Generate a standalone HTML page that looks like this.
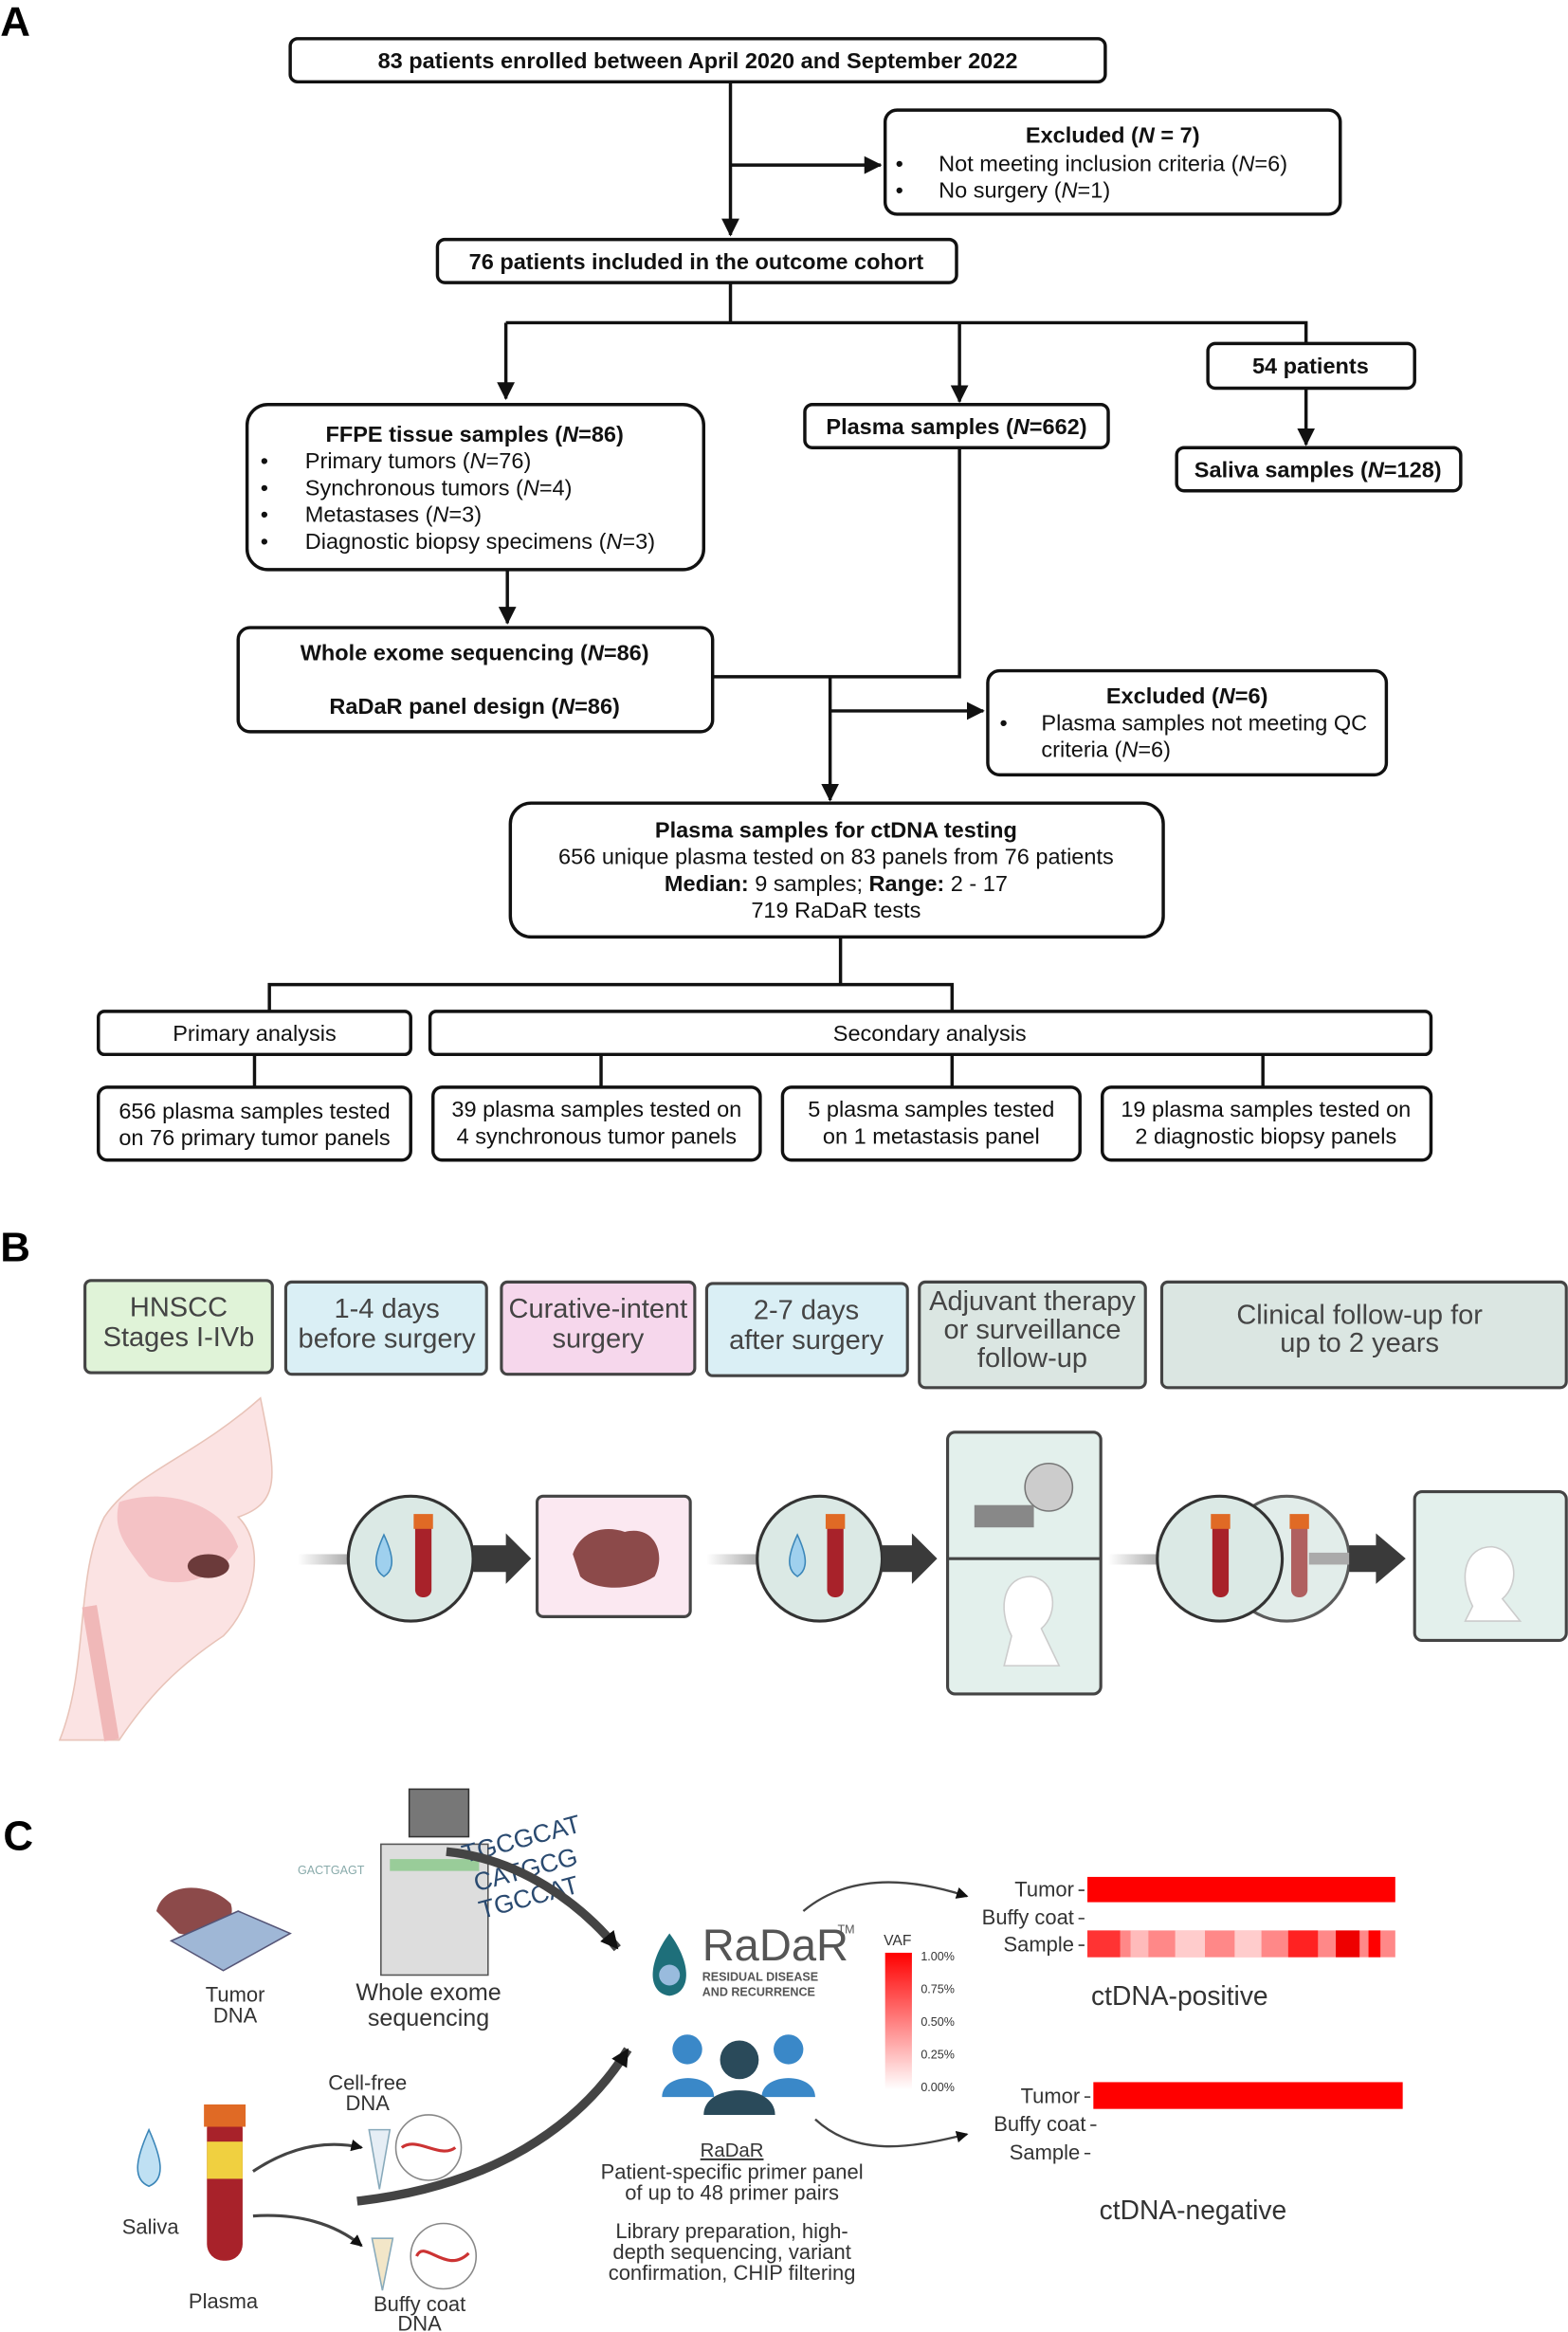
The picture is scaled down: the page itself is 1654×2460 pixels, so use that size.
<!DOCTYPE html>
<html><head><meta charset="utf-8"><style>
html,body{margin:0;padding:0;background:#fff;}
svg{display:block;font-family:"Liberation Sans",Arial,sans-serif;}
.b{fill:#fff;stroke:#111;stroke-width:2.2;}
.t{font-size:15px;fill:#111;}
.tb{font-size:15px;fill:#111;font-weight:bold;}
.l{stroke:#111;stroke-width:2.2;fill:none;}
.bt{font-size:18.5px;fill:#444;}
.c{font-size:14px;fill:#333;}
</style></head><body>
<svg width="1654" height="2460" viewBox="0 0 1054 1568" xmlns="http://www.w3.org/2000/svg">
<defs><marker id="a" markerWidth="8" markerHeight="8" refX="7" refY="4" orient="auto" markerUnits="userSpaceOnUse" viewBox="0 0 8 8"><path d="M0,0 L8,4 L0,8z" fill="#111"/></marker>
<marker id="a2" markerWidth="12" markerHeight="12" refX="11" refY="6" orient="auto" markerUnits="userSpaceOnUse" viewBox="0 0 12 12"><path d="M0,0 L12,6 L0,12z" fill="#111"/></marker>
<linearGradient id="g" x1="0" x2="1"><stop offset="0" stop-color="#fff"/><stop offset="1" stop-color="#aaa"/></linearGradient></defs>
<text x="0" y="24" font-size="28" font-weight="bold">A</text>
<rect class="b" x="195" y="26" width="548" height="29" rx="5"/><text class="tb" x="469" y="46" text-anchor="middle">83 patients enrolled between April 2020 and September 2022</text>
<path class="l" d="M491,55 V158" marker-end="url(#a2)"/>
<path class="l" d="M491,111 H592" marker-end="url(#a2)"/>
<rect class="b" x="595" y="74" width="306" height="70" rx="8"/>
<text class="tb" x="748" y="96" text-anchor="middle">Excluded (<tspan font-style="italic">N</tspan> = 7)</text>
<text class="t" x="602" y="115">•</text><text class="t" x="631" y="115">Not meeting inclusion criteria (<tspan font-style="italic">N</tspan>=6)</text>
<text class="t" x="602" y="133">•</text><text class="t" x="631" y="133">No surgery (<tspan font-style="italic">N</tspan>=1)</text>
<rect class="b" x="294" y="161" width="349" height="29" rx="5"/><text class="tb" x="468" y="181" text-anchor="middle">76 patients included in the outcome cohort</text>
<path class="l" d="M491,190 V217 M340,217 H878 V231"/>
<path class="l" d="M340,217 V268" marker-end="url(#a2)"/>
<path class="l" d="M645,217 V270" marker-end="url(#a2)"/>
<rect class="b" x="812" y="231" width="139" height="30" rx="5"/><text class="tb" x="881" y="251" text-anchor="middle">54 patients</text>
<path class="l" d="M878,261 V299" marker-end="url(#a2)"/>
<rect class="b" x="791" y="301" width="191" height="29" rx="5"/><text class="tb" x="886" y="321" text-anchor="middle">Saliva samples (<tspan font-style="italic">N</tspan>=128)</text>
<rect class="b" x="541" y="272" width="204" height="29" rx="5"/><text class="tb" x="643" y="292" text-anchor="middle">Plasma samples (<tspan font-style="italic">N</tspan>=662)</text>
<rect class="b" x="166" y="272" width="307" height="111" rx="14"/>
<text class="tb" x="319" y="297" text-anchor="middle">FFPE tissue samples (<tspan font-style="italic">N</tspan>=86)</text>
<g class="t"><text x="175" y="315">•</text><text x="205" y="315">Primary tumors (<tspan font-style="italic">N</tspan>=76)</text>
<text x="175" y="333">•</text><text x="205" y="333">Synchronous tumors (<tspan font-style="italic">N</tspan>=4)</text>
<text x="175" y="351">•</text><text x="205" y="351">Metastases (<tspan font-style="italic">N</tspan>=3)</text>
<text x="175" y="369">•</text><text x="205" y="369">Diagnostic biopsy specimens (<tspan font-style="italic">N</tspan>=3)</text></g>
<path class="l" d="M341,383 V419" marker-end="url(#a2)"/>
<rect class="b" x="160" y="422" width="319" height="70" rx="8"/>
<text class="tb" x="319" y="444" text-anchor="middle">Whole exome sequencing (<tspan font-style="italic">N</tspan>=86)</text>
<text class="tb" x="319" y="480" text-anchor="middle">RaDaR panel design (<tspan font-style="italic">N</tspan>=86)</text>
<path class="l" d="M645,301 V455 H479 M558,455 V536"/>
<path class="l" d="M558,537 V538" marker-end="url(#a2)"/>
<path class="l" d="M558,478 H661" marker-end="url(#a2)"/>
<rect class="b" x="664" y="451" width="268" height="70" rx="8"/>
<text class="tb" x="798" y="473" text-anchor="middle">Excluded (<tspan font-style="italic">N</tspan>=6)</text>
<text class="t" x="672" y="491">•</text><text class="t" x="700" y="491">Plasma samples not meeting QC</text><text class="t" x="700" y="509">criteria (<tspan font-style="italic">N</tspan>=6)</text>
<rect class="b" x="343" y="540" width="439" height="90" rx="14"/>
<text class="tb" x="562" y="563" text-anchor="middle">Plasma samples for ctDNA testing</text>
<text class="t" x="562" y="581" text-anchor="middle">656 unique plasma tested on 83 panels from 76 patients</text>
<text class="t" x="562" y="599" text-anchor="middle"><tspan font-weight="bold">Median:</tspan> 9 samples; <tspan font-weight="bold">Range:</tspan> 2 - 17</text>
<text class="t" x="562" y="617" text-anchor="middle">719 RaDaR tests</text>
<path class="l" d="M565,630 V662 M181,680 V662 H640 V680"/>
<rect class="b" x="66" y="680" width="210" height="29" rx="4"/><text class="t" x="171" y="700" text-anchor="middle">Primary analysis</text>
<rect class="b" x="289" y="680" width="673" height="29" rx="4"/><text class="t" x="625" y="700" text-anchor="middle">Secondary analysis</text>
<path class="l" d="M171,709 V731 M404,709 V731 M640,709 V731 M849,709 V731"/>
<rect class="b" x="66" y="731" width="210" height="49" rx="6"/><text class="t" x="171" y="752" text-anchor="middle">656 plasma samples tested</text><text class="t" x="171" y="770" text-anchor="middle">on 76 primary tumor panels</text>
<rect class="b" x="291" y="731" width="220" height="49" rx="6"/><text class="t" x="401" y="751" text-anchor="middle">39 plasma samples tested on</text><text class="t" x="401" y="769" text-anchor="middle">4 synchronous tumor panels</text>
<rect class="b" x="526" y="731" width="200" height="49" rx="6"/><text class="t" x="626" y="751" text-anchor="middle">5 plasma samples tested</text><text class="t" x="626" y="769" text-anchor="middle">on 1 metastasis panel</text>
<rect class="b" x="741" y="731" width="221" height="49" rx="6"/><text class="t" x="851" y="751" text-anchor="middle">19 plasma samples tested on</text><text class="t" x="851" y="769" text-anchor="middle">2 diagnostic biopsy panels</text>
<text x="0" y="848" font-size="28" font-weight="bold">B</text>
<g stroke="#444" stroke-width="2">
<rect x="57" y="861" width="126" height="62" rx="4" fill="#e0f3d8"/>
<rect x="192" y="862" width="135" height="62" rx="4" fill="#daeff5"/>
<rect x="337" y="862" width="130" height="62" rx="4" fill="#f6d7ec"/>
<rect x="475" y="863" width="135" height="62" rx="4" fill="#daeff5"/>
<rect x="618" y="862" width="152" height="71" rx="4" fill="#dbe6e2"/>
<rect x="781" y="862" width="272" height="71" rx="4" fill="#dbe6e2"/>
</g>
<g class="bt" text-anchor="middle">
<text x="120" y="885">HNSCC</text><text x="120" y="905">Stages I-IVb</text>
<text x="260" y="886">1-4 days</text><text x="260" y="906">before surgery</text>
<text x="402" y="886">Curative-intent</text><text x="402" y="906">surgery</text>
<text x="542" y="887">2-7 days</text><text x="542" y="907">after surgery</text>
<text x="694" y="881">Adjuvant therapy</text><text x="694" y="900">or surveillance</text><text x="694" y="919">follow-up</text>
<text x="914" y="890">Clinical follow-up for</text><text x="914" y="909">up to 2 years</text>
</g>
<path d="M175,940 C185,990 190,1010 160,1020 C180,1040 170,1080 150,1100 C120,1120 100,1140 80,1170 L40,1170 C60,1120 50,1060 70,1020 C90,990 130,980 175,940z" fill="#fbe3e3" stroke="#e8c3b8"/>
<path d="M80,1010 C110,1000 150,1010 160,1040 C150,1060 120,1070 100,1060 C85,1040 75,1030 80,1010z" fill="#f4c2c5"/>
<ellipse cx="140" cy="1053" rx="14" ry="8" fill="#6b3a3a"/>
<path d="M60,1080 L75,1170" stroke="#f0b8b8" stroke-width="10"/>
<rect x="200" y="1045" width="35" height="7" fill="url(#g)"/>
<circle cx="276" cy="1048" r="42" fill="#dbe9e5" stroke="#333" stroke-width="2"/>
<path d="M258,1032 C252,1045 250,1055 258,1060 C266,1055 264,1045 258,1032z" fill="#9fd0ee" stroke="#3b86b8"/>
<rect x="279" y="1022" width="11" height="52" rx="5" fill="#a8222a"/><rect x="278" y="1018" width="13" height="10" fill="#e06a25"/>
<path d="M318,1039 H340 V1031 L357,1048 L340,1065 V1057 H318z" fill="#3a3a3a"/>
<rect x="361" y="1006" width="103" height="81" rx="4" fill="#fbe8f1" stroke="#444" stroke-width="2"/>
<path d="M385,1045 C390,1030 405,1025 420,1030 C440,1025 448,1045 440,1060 C425,1070 400,1070 390,1060z" fill="#8c4a4a"/>
<rect x="475" y="1045" width="35" height="7" fill="url(#g)"/>
<circle cx="551" cy="1048" r="42" fill="#dbe9e5" stroke="#333" stroke-width="2"/>
<path d="M536,1032 C530,1045 528,1055 536,1060 C544,1055 542,1045 536,1032z" fill="#9fd0ee" stroke="#3b86b8"/>
<rect x="556" y="1022" width="11" height="52" rx="5" fill="#a8222a"/><rect x="555" y="1018" width="13" height="10" fill="#e06a25"/>
<path d="M593,1039 H613 V1031 L630,1048 L613,1065 V1057 H593z" fill="#3a3a3a"/>
<rect x="637" y="963" width="103" height="176" rx="5" fill="#e3f0ec" stroke="#444" stroke-width="2"/>
<path d="M637,1048 H740" stroke="#444" stroke-width="2"/>
<rect x="655" y="1012" width="40" height="15" fill="#888"/><circle cx="705" cy="1000" r="16" fill="#ccc" stroke="#777"/>
<path d="M680,1100 C670,1080 675,1060 693,1060 C710,1062 712,1085 700,1095 L712,1120 L675,1120z" fill="#fff" stroke="#ccc"/>
<rect x="745" y="1045" width="35" height="7" fill="url(#g)"/>
<circle cx="865" cy="1048" r="42" fill="#dbe9e5" stroke="#333" stroke-width="2" opacity="0.8"/>
<circle cx="820" cy="1048" r="42" fill="#dbe9e5" stroke="#333" stroke-width="2"/>
<rect x="815" y="1022" width="11" height="52" rx="5" fill="#a8222a"/><rect x="814" y="1018" width="13" height="10" fill="#e06a25"/>
<rect x="868" y="1022" width="11" height="52" rx="5" fill="#b06060"/><rect x="867" y="1018" width="13" height="10" fill="#e06a25"/>
<rect x="880" y="1044" width="40" height="8" fill="#aaa"/>
<path d="M907,1039 H925 V1031 L945,1048 L925,1065 V1057 H907z" fill="#3a3a3a"/>
<rect x="951" y="1003" width="102" height="100" rx="5" fill="#e3f0ec" stroke="#444" stroke-width="2"/>
<path d="M990,1080 C980,1060 985,1040 1003,1040 C1020,1042 1022,1065 1010,1075 L1022,1090 L985,1090z" fill="#fff" stroke="#ccc"/>
<text x="2" y="1244" font-size="28" font-weight="bold">C</text>
<path d="M105,1285 C110,1265 140,1265 155,1280 C160,1295 140,1305 120,1300z" fill="#8c4a4a"/>
<path d="M115,1305 L160,1285 L195,1300 L150,1325z" fill="#9fb7d6" stroke="#557"/>
<text class="c" x="158" y="1346" text-anchor="middle">Tumor</text><text class="c" x="158" y="1360" text-anchor="middle">DNA</text>
<rect x="256" y="1240" width="72" height="88" fill="#ddd" stroke="#555"/><rect x="262" y="1250" width="60" height="8" fill="#9c9"/>
<rect x="275" y="1203" width="40" height="32" fill="#777" stroke="#333"/>
<text x="200" y="1260" font-size="8" fill="#8aa">GACTGAGT</text>
<text x="310" y="1245" font-size="17" fill="#2a4a70" transform="rotate(-15 340 1240)">TGCGCAT</text>
<text x="318" y="1265" font-size="17" fill="#2a4a70" transform="rotate(-15 345 1260)">CATGCG</text>
<text x="322" y="1283" font-size="17" fill="#2a4a70" transform="rotate(-15 350 1280)">TGCCAT</text>
<text x="288" y="1345" text-anchor="middle" font-size="16" fill="#333">Whole exome</text><text x="288" y="1362" text-anchor="middle" font-size="16" fill="#333">sequencing</text>
<path d="M300,1245 C350,1250 390,1280 415,1310" stroke="#444" stroke-width="6" fill="none" marker-end="url(#a2)"/>
<path d="M240,1480 C330,1470 390,1430 422,1378" stroke="#444" stroke-width="6" fill="none" marker-end="url(#a2)"/>
<path d="M450,1300 C435,1320 435,1340 450,1342 C465,1340 465,1320 450,1300z" fill="#1e6f7a"/><circle cx="450" cy="1328" r="7" fill="#9bd"/>
<text x="472" y="1318" font-size="30" fill="#555">RaDaR</text><text x="563" y="1300" font-size="8" fill="#555">TM</text>
<text x="472" y="1332" font-size="8" fill="#555" font-weight="bold">RESIDUAL DISEASE</text><text x="472" y="1342" font-size="8" fill="#555" font-weight="bold">AND RECURRENCE</text>
<circle cx="462" cy="1378" r="10" fill="#3a88c8"/><circle cx="530" cy="1378" r="10" fill="#3a88c8"/><circle cx="497" cy="1385" r="13" fill="#2a4a5a"/>
<path d="M445,1410 C445,1393 480,1393 480,1410z M512,1410 C512,1393 548,1393 548,1410z" fill="#3a88c8"/>
<path d="M473,1422 C473,1400 521,1400 521,1422z" fill="#2a4a5a"/>
<text x="492" y="1450" text-anchor="middle" font-size="13" fill="#333" text-decoration="underline">RaDaR</text>
<text class="c" x="492" y="1465" text-anchor="middle" font-size="13">Patient-specific primer panel</text>
<text class="c" x="492" y="1479" text-anchor="middle" font-size="13">of up to 48 primer pairs</text>
<text class="c" x="492" y="1505" text-anchor="middle" font-size="13">Library preparation, high-</text>
<text class="c" x="492" y="1519" text-anchor="middle" font-size="13">depth sequencing, variant</text>
<text class="c" x="492" y="1533" text-anchor="middle" font-size="13">confirmation, CHIP filtering</text>
<path d="M100,1432 C92,1450 88,1465 100,1470 C112,1465 108,1450 100,1432z" fill="#bfe0f3" stroke="#3b86b8"/>
<text class="c" x="101" y="1502" text-anchor="middle">Saliva</text>
<rect x="139" y="1420" width="24" height="100" rx="11" fill="#a8222a"/><rect x="139" y="1440" width="24" height="25" fill="#f0d040"/><rect x="137" y="1415" width="28" height="15" fill="#e06a25"/>
<text class="c" x="150" y="1552" text-anchor="middle">Plasma</text>
<text class="c" x="247" y="1405" text-anchor="middle" font-size="13">Cell-free</text><text class="c" x="247" y="1419" text-anchor="middle" font-size="13">DNA</text>
<circle cx="288" cy="1444" r="22" fill="#fff" stroke="#888"/><path d="M270,1444 C280,1436 296,1452 306,1444" stroke="#c33" stroke-width="2" fill="none"/>
<path d="M248,1432 L262,1432 L255,1472z" fill="#e6eef5" stroke="#8ab"/>
<path d="M170,1460 C200,1440 225,1440 243,1444" stroke="#444" stroke-width="2" fill="none" marker-end="url(#a)"/>
<path d="M170,1490 C200,1488 225,1495 243,1510" stroke="#444" stroke-width="2" fill="none" marker-end="url(#a)"/>
<circle cx="298" cy="1517" r="22" fill="#fff" stroke="#888"/><path d="M280,1517 C285,1505 300,1530 315,1515" stroke="#c33" stroke-width="2" fill="none"/>
<path d="M250,1505 L264,1505 L257,1540z" fill="#f2e6c8" stroke="#8ab"/>
<text class="c" x="282" y="1554" text-anchor="middle" font-size="13">Buffy coat</text><text class="c" x="282" y="1567" text-anchor="middle" font-size="13">DNA</text>
<path d="M540,1285 C570,1260 610,1262 650,1275" stroke="#444" stroke-width="1.5" fill="none" marker-end="url(#a)"/>
<path d="M548,1425 C575,1450 610,1445 650,1435" stroke="#444" stroke-width="1.5" fill="none" marker-end="url(#a)"/>
<text x="594" y="1308" font-size="10" fill="#333">VAF</text>
<defs><linearGradient id="v" x1="0" y1="0" x2="0" y2="1"><stop offset="0" stop-color="#f00"/><stop offset="1" stop-color="#fff"/></linearGradient></defs>
<rect x="595" y="1313" width="18" height="92" fill="url(#v)"/>
<g font-size="8" fill="#333"><text x="619" y="1318">1.00%</text><text x="619" y="1340">0.75%</text><text x="619" y="1362">0.50%</text><text x="619" y="1384">0.25%</text><text x="619" y="1406">0.00%</text></g>
<g class="c" text-anchor="end" font-size="13.5"><text x="722" y="1275">Tumor</text><text x="722" y="1294">Buffy coat</text><text x="722" y="1312">Sample</text>
<text x="726" y="1414">Tumor</text><text x="730" y="1433">Buffy coat</text><text x="726" y="1452">Sample</text></g>
<path d="M725,1271 H729 M725,1290 H729 M725,1308 H729 M729,1410 H733 M733,1429 H737 M729,1448 H733" stroke="#333"/>
<rect x="731" y="1262" width="207" height="17" fill="#f00"/>
<g>
<rect x="731" y="1298" width="207" height="18" fill="#f88"/>
<rect x="731" y="1298" width="22" height="18" fill="#f33"/><rect x="760" y="1298" width="12" height="18" fill="#fbb"/><rect x="790" y="1298" width="20" height="18" fill="#fcc"/><rect x="830" y="1298" width="18" height="18" fill="#fcc"/><rect x="866" y="1298" width="20" height="18" fill="#f22"/><rect x="898" y="1298" width="16" height="18" fill="#e00"/><rect x="920" y="1298" width="8" height="18" fill="#f00"/>
</g>
<rect x="735" y="1400" width="208" height="18" fill="#f00"/>
<text x="793" y="1348" text-anchor="middle" font-size="18" fill="#333">ctDNA-positive</text>
<text x="802" y="1492" text-anchor="middle" font-size="18" fill="#333">ctDNA-negative</text>
</svg>
</body></html>
